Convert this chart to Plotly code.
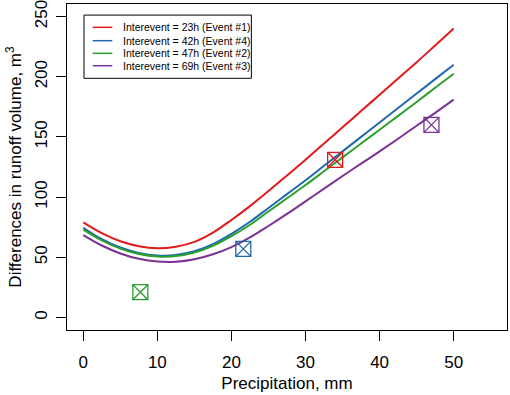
import plotly.graph_objects as go

# ---- data ----
precip = [0, 2.5, 5, 7.5, 10, 12.5, 15, 17.5, 20, 22.5, 25, 27.5, 30, 32.5, 35,
          37.5, 40, 42.5, 45, 47.5, 50]
diff_23h = [79, 70, 63.3, 59.2, 57.5, 58.8, 62.8, 70.5, 81, 92.5, 105, 118, 131,
            144.5, 158, 171.5, 185, 198.5, 212, 226, 240]
diff_42h = [74.5, 65, 58.1, 53.6, 51.5, 51.9, 55, 61, 69.5, 79.5, 91, 102.5, 114,
            126, 138, 150, 162, 174, 186, 198, 210]
diff_47h = [73, 64, 57.2, 52.8, 50.7, 51, 54, 59.5, 67.5, 77, 88, 99, 110,
            121.5, 133, 144.5, 156, 167.5, 179, 190.8, 202.5]
diff_69h = [68.5, 59.8, 53.2, 48.7, 46.4, 46.2, 48.3, 52.5, 58.5, 66.5, 76, 86, 96.5,
            107, 117.5, 127.8, 138, 148.5, 159.3, 170, 181]

obs_precip = [34.0, 21.6, 7.7, 47.0]
obs_diff = [131, 57, 21, 160]

series_names = ["Interevent = 23h (Event #1)", "Interevent = 42h (Event #4)",
                "Interevent = 47h (Event #2)", "Interevent = 69h (Event #3)"]
series_vals = [diff_23h, diff_42h, diff_47h, diff_69h]
colors = ["#E31A1C", "#1F69AE", "#2CA02C", "#7B3294"]

x_ticks = [0, 10, 20, 30, 40, 50]
y_ticks = [0, 50, 100, 150, 200, 250]

FONT = "Liberation Sans, Arial, sans-serif"

fig = go.Figure()
for name, vals, c in zip(series_names, series_vals, colors):
    fig.add_trace(go.Scatter(x=precip, y=vals, mode="lines", name=name,
                             line=dict(color=c, width=2, shape="spline", smoothing=1),
                             showlegend=False))
for xo, yo, c in zip(obs_precip, obs_diff, colors):
    fig.add_trace(go.Scatter(x=[xo], y=[yo], mode="markers", showlegend=False,
                             marker=dict(symbol="square-x-open", size=15, color=c,
                                         line=dict(color=c, width=1.3))))

# manual legend (R-style compact box)
lx0, lx1, ly0, ly1 = 0.0386, 0.419, 0.772, 0.966
fig.add_shape(type="rect", xref="paper", yref="paper", x0=lx0, x1=lx1, y0=ly0, y1=ly1,
              line=dict(color="black", width=1), fillcolor="white", layer="above")
row_y = [0.9285, 0.8874, 0.8487, 0.8107]
for name, c, ry in zip(series_names, colors, row_y):
    fig.add_shape(type="line", xref="paper", yref="paper", x0=0.0584, x1=0.103, y0=ry, y1=ry,
                  line=dict(color=c, width=1.5), layer="above")
    fig.add_annotation(xref="paper", yref="paper", x=0.122, y=ry, text=name, showarrow=False,
                       xanchor="left", yanchor="middle", font=dict(family=FONT, size=10.5, color="black"))

axis_common = dict(showline=True, mirror=True, linecolor="black", linewidth=1,
                   ticks="outside", ticklen=10, tickcolor="black", tickwidth=1,
                   showgrid=False, zeroline=False, automargin=False,
                   ticklabeloverflow="allow",
                   tickfont=dict(family=FONT, size=17, color="black"))

fig.update_layout(
    width=510, height=395,
    margin=dict(l=67, r=3, t=4, b=65),
    paper_bgcolor="white", plot_bgcolor="white",
    font=dict(family=FONT, color="black"),
    xaxis=dict(range=[-2.2, 57.2], tickvals=x_ticks, ticklabelstandoff=7,
               title=dict(text="Precipitation, mm", font=dict(family=FONT, size=17), standoff=5),
               **axis_common),
    yaxis=dict(range=[-10.4, 260.4], tickvals=y_ticks, tickangle=-90, ticklabelstandoff=2,
               title=dict(text="Differences in runoff volume, m<sup>3</sup>",
                          font=dict(family=FONT, size=17), standoff=6),
               **axis_common),
)

fig.write_html("out.html", config={"displayModeBar": False},
               post_script="document.body.style.margin='0';document.body.style.overflow='hidden';")
